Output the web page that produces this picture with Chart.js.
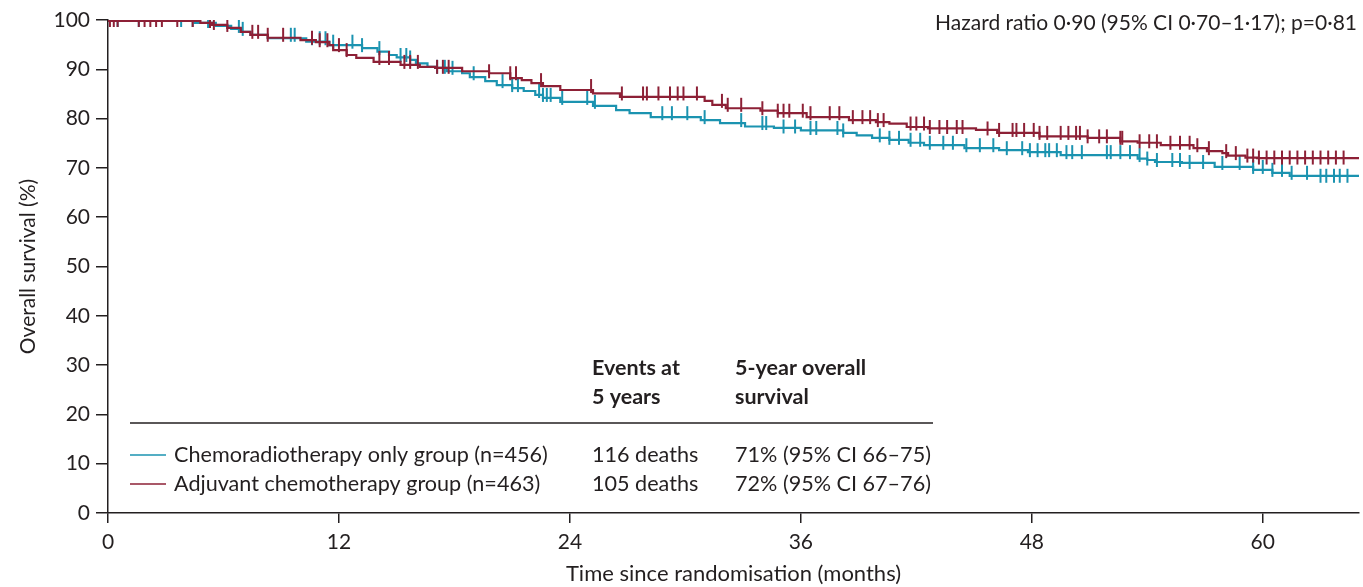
<!DOCTYPE html>
<html>
<head>
<meta charset="utf-8">
<script src="https://cdn.jsdelivr.net/npm/chart.js@4/dist/chart.umd.min.js"></script>
<style>
  html, body { margin: 0; padding: 0; background: #fff; }
  canvas { display: block; }
</style>
</head>
<body>
<canvas id="km" width="1363" height="587"></canvas>
<script>
// ---- Text content ----
const groupNames = ['Chemoradiotherapy only group (n=456)', 'Adjuvant chemotherapy group (n=463)'];
const eventsAt5y = ['116 deaths', '105 deaths'];
const survival5y = ['71% (95% CI 66–75)', '72% (95% CI 67–76)'];
const tableHeaders = [['Events at', '5 years'], ['5-year overall', 'survival']];
const hazardText = 'Hazard ratio 0·90 (95% CI 0·70–1·17); p=0·81';
const xTitle = 'Time since randomisation (months)';
const yTitle = 'Overall survival (%)';

// ---- Axis ticks ----
const xTicks = [0, 12, 24, 36, 48, 60];
const yTicks = [0, 10, 20, 30, 40, 50, 60, 70, 80, 90, 100];

// ---- Kaplan-Meier steps: chemoradiotherapy only ----
const crtTimes = [0, 4.5, 5.6, 6.4, 6.9, 7.4, 8.3, 10.3, 11.5, 13.2, 14.0, 14.6, 15.0, 15.7, 16.0, 16.6, 17.0, 17.6,
  18.4, 18.8, 19.6, 20.2, 21.0, 21.6, 22.2, 22.6, 23.5, 25.2, 26.4, 27.1, 28.2, 30.8, 31.8, 33.1, 34.6, 36.0,
  38.2, 38.9, 39.7, 40.6, 41.6, 42.4, 44.5, 46.3, 47.8, 49.5, 53.5, 54.0, 54.4, 55.8, 57.5, 59.5, 60.5, 61.4, 62.9, 65];
const crtSurv = [100, 99.8, 99.4, 98.8, 98.2, 97.6, 97.0, 96.3, 95.6, 94.9, 94.3, 93.6, 92.9, 92.4, 91.9, 91.2, 90.5, 90.3,
  89.6, 89.2, 88.4, 87.6, 86.8, 86.2, 85.6, 84.8, 84.2, 83.4, 82.6, 81.7, 81.1, 80.3, 79.7, 79.1, 78.4, 78.1,
  77.6, 77.1, 76.6, 76.1, 75.7, 75.1, 74.6, 74.0, 73.6, 73.2, 72.6, 71.9, 71.6, 71.2, 71.0, 70.2, 69.6, 69.0, 68.4, 68.4];
const crtCensor = [0.5, 1.6, 3.8, 4.4, 5.2, 6.8, 7.0, 9.5, 9.7, 10.6, 11.0, 11.3, 11.7, 12.7, 13.2, 14.1, 15.2, 15.5,
  15.7, 17.1, 17.5, 17.9, 19.0, 20.5, 21.0, 21.3, 22.4, 22.6, 22.8, 23.0, 23.6, 24.9, 25.3, 28.8, 29.3, 30.1, 31.0,
  32.9, 34.0, 34.2, 35.1, 35.7, 36.5, 36.8, 37.9, 38.2, 40.1, 40.6, 41.1, 41.7, 42.2, 42.7, 43.4, 43.9, 44.6, 45.3,
  46.0, 46.7, 47.5, 47.9, 48.3, 48.7, 48.9, 49.3, 49.8, 50.1, 50.6, 51.9, 52.1, 52.6, 53.1, 53.6, 54.0, 54.5, 55.3,
  55.7, 56.2, 56.9, 57.9, 58.8, 59.5, 60.0, 60.5, 61.0, 61.5, 62.3, 63.0, 63.3, 63.7, 64.0, 64.4];

// ---- Kaplan-Meier steps: adjuvant chemotherapy ----
const adjTimes = [0, 4.8, 5.4, 6.2, 6.9, 7.4, 8.3, 10.0, 10.8, 11.5, 11.7, 12.4, 12.9, 13.8, 15.2, 16.2, 17.0, 18.4,
  19.8, 20.9, 21.5, 22.0, 22.6, 23.5, 25.2, 26.6, 31.0, 31.4, 32.1, 33.9, 34.8, 36.3, 38.5, 39.9, 40.6, 41.5, 42.6,
  45.1, 46.2, 48.4, 50.9, 52.6, 53.5, 54.7, 56.4, 57.1, 57.9, 58.2, 59.1, 59.7, 65];
const adjSurv = [100, 99.8, 99.4, 99.0, 98.4, 97.6, 97.0, 96.4, 95.9, 95.5, 94.9, 93.9, 92.9, 92.3, 91.5, 90.9, 90.5, 90.3,
  89.6, 89.2, 88.2, 87.8, 87.2, 86.6, 85.8, 85.1, 84.4, 83.6, 82.8, 82.1, 81.6, 81.1, 80.3, 79.7, 79.3, 79.0, 78.3,
  78.0, 77.7, 77.1, 76.4, 76.1, 75.4, 75.1, 74.6, 74.0, 73.4, 73.0, 72.5, 72.1, 72.0];
const adjCensor = [0.1, 0.3, 0.5, 1.6, 1.9, 2.2, 2.5, 2.8, 3.6, 4.4, 5.3, 5.5, 6.2, 7.5, 7.8, 8.3, 9.1, 10.6, 11.0,
  11.4, 12.0, 12.4, 14.1, 14.6, 15.4, 15.7, 16.1, 17.1, 17.4, 17.7, 19.8, 20.9, 21.2, 22.5, 25.1, 26.7, 27.8, 28.0,
  28.6, 29.2, 29.6, 29.9, 30.6, 31.9, 32.2, 32.9, 34.0, 34.8, 35.1, 35.4, 36.1, 36.5, 37.5, 38.0, 38.7, 39.2, 39.6,
  40.0, 40.3, 41.7, 42.0, 42.4, 42.7, 43.2, 43.6, 44.1, 44.4, 45.7, 46.3, 47.0, 47.2, 47.6, 48.1, 48.4, 48.8, 49.5,
  49.9, 50.3, 50.5, 50.9, 51.5, 51.9, 52.6, 52.7, 53.6, 54.1, 54.5, 55.2, 55.7, 56.2, 56.6, 57.2, 58.1, 58.6, 59.2,
  59.5, 59.8, 60.2, 60.6, 61.0, 61.4, 61.8, 62.2, 62.6, 63.0, 63.4, 63.8, 64.2];

// ---- Style ----
const TEAL = '#1b93b0';
const RED = '#8d2036';
const INK = '#231f20';
const FONT = 'Lato';

// Survival estimate in effect at time t (value of the step function)
function survivalAt(times, surv, t) {
  let s = surv[0];
  for (let i = 0; i < times.length; i++) {
    if (times[i] <= t) s = surv[i]; else break;
  }
  return s;
}
const curve = (times, surv) => times.map((t, i) => ({ x: t, y: surv[i] }));
const censorMarks = (c, times, surv) => c.map(t => ({ x: t, y: survivalAt(times, surv, t) }));

// Legend table, hazard ratio and rule drawn on top of the plot
const annotations = {
  id: 'annotations',
  afterDraw(chart) {
    const ctx = chart.ctx;
    ctx.save();
    ctx.fillStyle = INK;
    ctx.textBaseline = 'middle';

    ctx.font = `21px ${FONT}`;
    ctx.textAlign = 'right';
    ctx.fillText(hazardText, 1357, 23);

    ctx.textAlign = 'left';
    ctx.font = `bold 21.5px ${FONT}`;
    const colX = [592, 735];
    tableHeaders.forEach((lines, c) => {
      lines.forEach((line, r) => ctx.fillText(line, colX[c], 368 + r * 29));
    });

    ctx.strokeStyle = INK;
    ctx.lineWidth = 1.5;
    ctx.beginPath();
    ctx.moveTo(130, 423);
    ctx.lineTo(933, 423);
    ctx.stroke();

    ctx.font = `21.6px ${FONT}`;
    const colors = [TEAL, RED];
    groupNames.forEach((name, i) => {
      const y = 455 + i * 29;
      ctx.strokeStyle = colors[i];
      ctx.lineWidth = 1.5;
      ctx.beginPath();
      ctx.moveTo(130, y);
      ctx.lineTo(166, y);
      ctx.stroke();
      ctx.fillText(name, 174, y);
      ctx.fillText(eventsAt5y[i], colX[0], y);
      ctx.fillText(survival5y[i], colX[1], y);
    });
    ctx.restore();
  }
};

const censorStyle = color => ({
  showLine: false, pointStyle: 'line', pointRotation: 90, pointRadius: 7, pointBorderWidth: 2,
  borderColor: color, backgroundColor: color
});

new Chart(document.getElementById('km'), {
  type: 'line',
  data: {
    datasets: [
      { label: groupNames[1] + ' censored', data: censorMarks(adjCensor, adjTimes, adjSurv), ...censorStyle(RED), order: 1 },
      { label: groupNames[1], data: curve(adjTimes, adjSurv), stepped: 'after', pointRadius: 0,
        borderColor: RED, borderWidth: 2.2, order: 2 },
      { label: groupNames[0] + ' censored', data: censorMarks(crtCensor, crtTimes, crtSurv), ...censorStyle(TEAL), order: 3 },
      { label: groupNames[0], data: curve(crtTimes, crtSurv), stepped: 'after', pointRadius: 0,
        borderColor: TEAL, borderWidth: 2.2, order: 4 }
    ]
  },
  options: {
    responsive: false,
    animation: false,
    devicePixelRatio: 1,
    layout: { autoPadding: false, padding: { top: 20, right: 4, bottom: 0, left: 0 } },
    plugins: { legend: { display: false }, tooltip: { enabled: false } },
    elements: { line: { tension: 0 } },
    scales: {
      x: {
        type: 'linear', min: 0, max: 65,
        afterBuildTicks: s => { s.ticks = xTicks.map(v => ({ value: v })); },
        afterFit: s => { s.height = 74; },
        grid: { drawOnChartArea: false, drawTicks: true, tickLength: 10, color: INK, lineWidth: 1.5 },
        border: { display: true, color: INK, width: 1.5 },
        ticks: { font: { family: FONT, size: 21 }, color: INK, padding: 7, maxRotation: 0 },
        title: { display: true, text: xTitle, font: { family: FONT, size: 22 }, color: INK, padding: { top: 0, bottom: 0 } }
      },
      y: {
        min: 0, max: 100,
        afterBuildTicks: s => { s.ticks = yTicks.map(v => ({ value: v })); },
        afterFit: s => { s.width = 108; },
        grid: { drawOnChartArea: false, drawTicks: true, tickLength: 12, color: INK, lineWidth: 1.5 },
        border: { display: true, color: INK, width: 1.5 },
        ticks: { font: { family: FONT, size: 21 }, color: INK, padding: 6 },
        title: { display: true, text: yTitle, font: { family: FONT, size: 21 }, color: INK, padding: { top: 16, bottom: 0 } }
      }
    }
  },
  plugins: [annotations]
});
</script>
</body>
</html>
